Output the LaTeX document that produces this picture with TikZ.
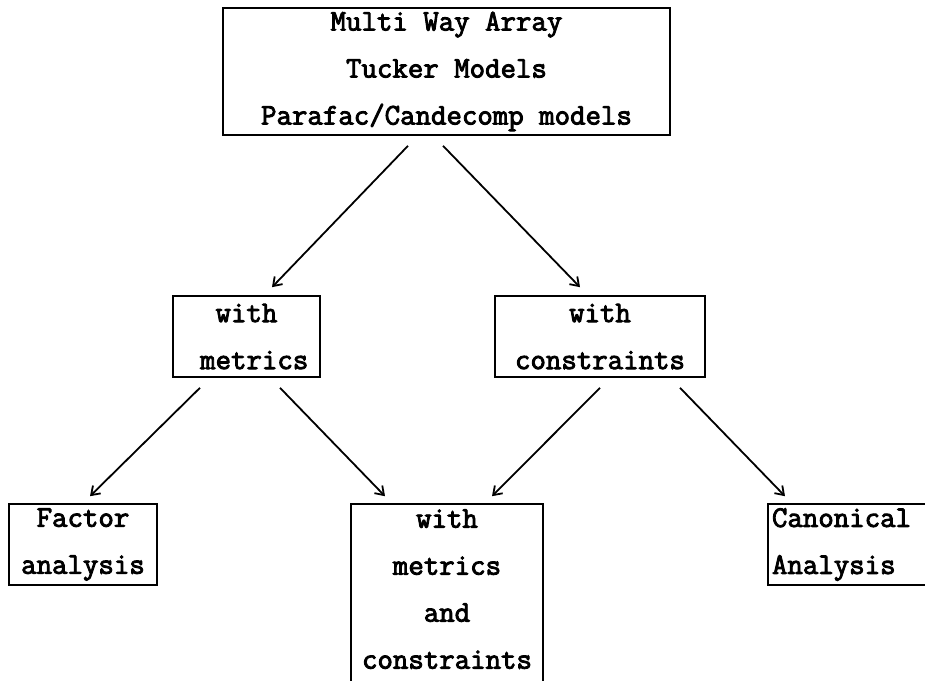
\documentclass[tikz,border=0pt]{standalone}
\usepackage{fontspec}
\newfontfamily\boxfont[FakeBold=3]{Latin Modern Mono}
\usetikzlibrary{calc,arrows.meta}
\begin{document}
\begin{tikzpicture}[x=1pt,y=-1pt,
  box/.style={draw,line width=1.6pt,rectangle,inner sep=0pt,align=center,
    font=\boxfont\fontsize{30pt}{47pt}\selectfont},
  arr/.style={line width=1.8pt,-{Straight Barb[length=8pt,width=11pt,line width=1.8pt]}}]
\useasboundingbox (0,0) rectangle (925,680);
\clip (0,0) rectangle (925,680);
\node[box,minimum width=447pt,minimum height=127pt] (top) at (446.5,71.5)
  {Multi Way Array\\Tucker Models\\Parafac/Candecomp models};
\node[box,minimum width=147pt,minimum height=81pt] (wm) at (246.5,336.5)
  {with\\\ metrics};
\node[box,minimum width=210pt,minimum height=81pt] (wc) at (600,336.5)
  {with\\constraints};
\node[box,minimum width=148pt,minimum height=81pt] (fa) at (83,544.5)
  {Factor\\analysis};
% the lower edge of this box runs off the page; the strut keeps its text high
\node[box,minimum width=192pt,minimum height=182pt] (mid) at (447,595)
  {with\\metrics\\and\\constraints\rule[-12pt]{0pt}{0pt}};
\node[box,minimum width=172pt,minimum height=81pt,align=left,text width=164pt] (ca) at (854,544.5)
  {Canonical\\Analysis};
\draw[arr] ($(top.south)+(-38.5,10)$) -- ($(wm.north)+(25.5,-8)$);
\draw[arr] ($(top.south)+(-3.5,10)$) -- ($(wc.north)+(-20,-8)$);
\draw[arr] ($(wm.south)+(-46.5,10)$) -- ($(fa.north)+(7,-7)$);
\draw[arr] ($(wm.south)+(33.5,10)$) -- ($(mid.north)+(-62,-7)$);
\draw[arr] ($(wc.south)+(0,10)$) -- ($(mid.north)+(45,-7)$);
\draw[arr] ($(wc.south)+(80,10)$) -- ($(ca.north)+(-69,-7)$);
\end{tikzpicture}
\end{document}
